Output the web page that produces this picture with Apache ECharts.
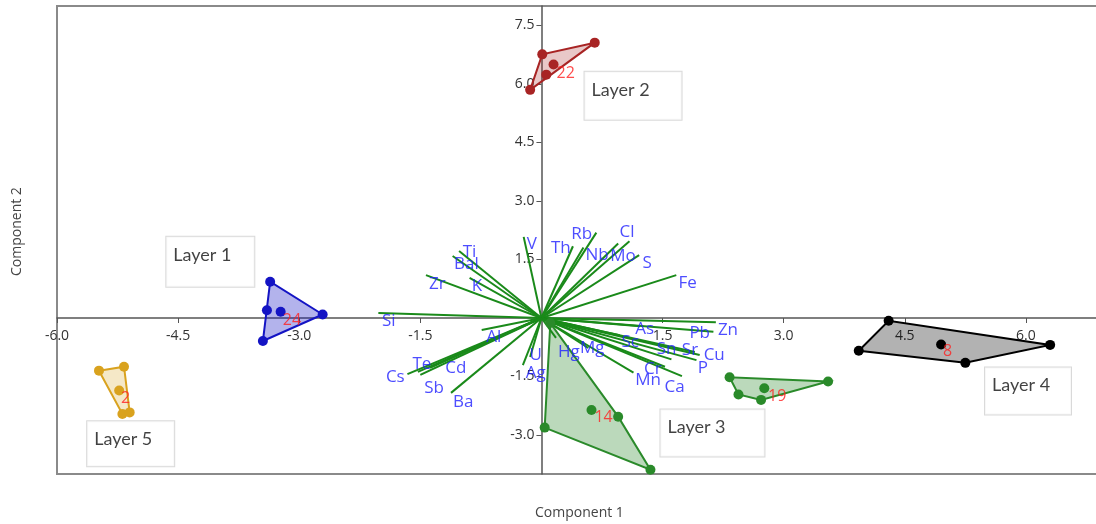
<!DOCTYPE html>
<html><head><meta charset="utf-8">
<script src="https://cdn.jsdelivr.net/npm/echarts@6/dist/echarts.min.js"></script>
<style>html,body{margin:0;padding:0;background:#fff}#c{width:1096px;height:524px}</style>
</head><body><div id="c"></div>
<script>
// ---- loadings (vector end points) ----
const elements = ['Si','Zr','Ti','Bal','K','V','Th','Nb','Rb','Mo','Cl','S','Fe','Zn','Pb','As','Sc','Cu','Sr','P','Sn','Cr','Ca','Mn','Mg','Hg','Al','Cs','Te','Sb','Cd','Ba','U','Ag'];
const loadX = [-2.02,-1.43,-1.02,-1.10,-0.89,-0.22,0.39,0.52,0.68,0.95,1.09,1.21,1.67,2.16,2.13,1.22,0.97,1.96,1.90,1.92,1.61,1.53,1.74,1.14,0.58,0.18,-0.74,-1.66,-1.53,-1.50,-1.38,-1.12,-0.23,-0.14];
const loadY = [0.13,1.10,1.72,1.59,1.03,2.08,1.84,1.81,2.19,1.91,1.97,1.61,1.10,-0.11,-0.35,-0.21,-0.44,-0.95,-0.87,-1.08,-1.06,-1.25,-1.49,-1.40,-0.77,-0.51,-0.31,-1.44,-1.38,-1.46,-1.28,-1.92,-1.21,-1.00];
// label anchor points (data units)
const labelX = [-1.89,-1.29,-0.89,-0.93,-0.80,-0.12,0.24,0.69,0.50,1.01,1.06,1.31,1.81,2.31,1.96,1.28,1.10,2.14,1.84,2.00,1.55,1.38,1.65,1.32,0.63,0.34,-0.59,-1.81,-1.48,-1.33,-1.06,-0.97,-0.07,-0.07];
const labelY = [-0.08,0.87,1.69,1.38,0.82,1.89,1.79,1.61,2.15,1.59,2.20,1.41,0.89,-0.31,-0.39,-0.28,-0.62,-0.95,-0.82,-1.28,-0.80,-1.31,-1.77,-1.59,-0.77,-0.87,-0.49,-1.51,-1.18,-1.79,-1.28,-2.15,-0.95,-1.41];

// ---- sample scores per group ----
const group24 = [[-3.36,0.93],[-3.40,0.20],[-3.23,0.16],[-2.71,0.09],[-3.45,-0.59]];
const group22 = [[-0.14,5.85],[0.01,6.76],[0.66,7.06],[0.15,6.50],[0.06,6.24]];
const group14 = [[0.11,-0.13],[0.04,-2.81],[1.35,-3.89],[0.95,-2.53],[0.62,-2.36]];
const group19 = [[2.33,-1.52],[3.55,-1.63],[2.44,-1.96],[2.72,-2.10],[2.76,-1.80]];
const group8  = [[4.30,-0.07],[3.93,-0.84],[5.25,-1.15],[6.30,-0.69],[4.95,-0.68]];
const group2  = [[-5.48,-1.35],[-5.17,-1.25],[-5.23,-1.86],[-5.19,-2.46],[-5.10,-2.42]];
const groupTags = ['24','22','14','19','8','2'];
const tagX = [-3.09,0.30,0.77,2.92,5.03,-5.15];
const tagY = [-0.05,6.27,-2.54,-2.00,-0.87,-2.05];

// ---- layer boxes ----
const layerNames = ['Layer 1','Layer 2','Layer 3','Layer 4','Layer 5'];
const layerBoxX = [-4.64,0.54,1.48,5.50,-5.62];
const layerBoxY = [2.07,6.30,-2.36,-1.28,-2.66];

// ---- ticks ----
const xTicks = [-6,-4.5,-3,-1.5,1.5,3,4.5,6];
const yTicks = [-3,-1.5,1.5,3,4.5,6,7.5];

// ---- styles / layout ----
const boxW = [88,97,104,86,87];
const boxH = [50,48,47,47,45];
const groupStroke = ['#1414c4','#a82424','#2a8a2a','#2a8a2a','#000000','#d9a21e'];
const groupFill = ['rgba(20,20,196,0.32)','rgba(168,36,36,0.25)','rgba(42,138,42,0.32)','rgba(42,138,42,0.32)','rgba(0,0,0,0.3)','rgba(217,162,30,0.25)'];
const groups = [group24,group22,group14,group19,group8,group2];
const X_MIN=-6, X_MAX=7.5, Y_MIN=-4, Y_MAX=8;
const G_LEFT=57, G_TOP=6, G_W=1090, G_H=468;
// move axes onto the zero lines
const xOffset = -((0 - Y_MIN)/(Y_MAX - Y_MIN))*G_H;
const yOffset = -((0 - X_MIN)/(X_MAX - X_MIN))*G_W;

function hull(pts){
  const p = pts.slice().sort((a,b)=>a[0]-b[0]||a[1]-b[1]);
  const cross=(o,a,b)=>(a[0]-o[0])*(b[1]-o[1])-(a[1]-o[1])*(b[0]-o[0]);
  const lo=[],up=[];
  for(const q of p){while(lo.length>=2&&cross(lo[lo.length-2],lo[lo.length-1],q)<=0)lo.pop();lo.push(q);}
  for(let i=p.length-1;i>=0;i--){const q=p[i];while(up.length>=2&&cross(up[up.length-2],up[up.length-1],q)<=0)up.pop();up.push(q);}
  up.pop();lo.pop();return lo.concat(up);
}

const FONT = 'Open Sans';
const series = [];

groups.forEach((g,i)=>{
  const h = hull(g);
  series.push({
    type:'custom', coordinateSystem:'cartesian2d', silent:true, z:2,
    data:[h[0]],
    renderItem:(params,api)=>({type:'polygon', shape:{points:h.map(p=>api.coord(p))},
      style:{fill:groupFill[i], stroke:groupStroke[i], lineWidth:2}})
  });
  series.push({
    type:'scatter', data:g, symbolSize:10, z:4, silent:true,
    itemStyle:{color:groupStroke[i], opacity:1}
  });
});

series.push({
  type:'lines', coordinateSystem:'cartesian2d', silent:true, z:3,
  lineStyle:{color:'#1a8a1a', width:2, opacity:1},
  data: elements.map((e,i)=>({coords:[[0,0],[loadX[i],loadY[i]]]}))
});

series.push({
  type:'scatter', silent:true, z:5, symbolSize:1, itemStyle:{color:'transparent'},
  data: elements.map((e,i)=>({name:e, value:[labelX[i],labelY[i]]})),
  label:{show:true, position:'inside', formatter:p=>p.name, color:'#2020ff', fontSize:17, fontFamily:FONT}
});

series.push({
  type:'scatter', silent:true, z:6, symbolSize:1, itemStyle:{color:'transparent'},
  data: groupTags.map((t,i)=>({name:t, value:[tagX[i],tagY[i]]})),
  label:{show:true, position:'inside', formatter:p=>p.name, color:'#ff1f1f', fontSize:16, fontFamily:FONT}
});

series.push({
  type:'scatter', silent:true, z:7, symbolSize:1, itemStyle:{color:'transparent'},
  data: layerNames.map((n,i)=>({name:n, value:[layerBoxX[i],layerBoxY[i]],
    label:{width:boxW[i]-7, height:boxH[i]-5}})),
  label:{show:true, position:[0,0], align:'left', verticalAlign:'top', formatter:p=>p.name,
    color:'#111', fontSize:18, fontFamily:'Lato', lineHeight:26,
    backgroundColor:'#fff', borderColor:'#cfcfcf', borderWidth:1, padding:[5,0,0,7]}
});

const chart = echarts.init(document.getElementById('c'), null, {renderer:'canvas'});
chart.setOption({
  animation:false,
  backgroundColor:'#fff',
  grid:{left:G_LEFT, top:G_TOP, width:G_W, height:G_H, show:true, borderColor:'#8a8a8a', borderWidth:2, backgroundColor:'transparent', outerBoundsMode:'none', containLabel:false},
  xAxis:{type:'value', min:X_MIN, max:X_MAX, position:'bottom', offset:xOffset, splitLine:{show:false},
    axisLine:{onZero:false, lineStyle:{color:'#555', width:1.5}},
    axisTick:{customValues:xTicks, length:5, lineStyle:{color:'#555'}},
    axisLabel:{customValues:xTicks, formatter:v=>v.toFixed(1), color:'#333', fontSize:14, fontFamily:FONT, margin:11}},
  yAxis:{type:'value', min:Y_MIN, max:Y_MAX, position:'left', offset:yOffset, splitLine:{show:false},
    axisLine:{onZero:false, lineStyle:{color:'#555', width:1.5}},
    axisTick:{customValues:yTicks, length:5, lineStyle:{color:'#555'}},
    axisLabel:{customValues:yTicks, formatter:v=>v.toFixed(1), color:'#333', fontSize:14, fontFamily:FONT, margin:7}},
  graphic:[
    {type:'text', left:535, top:506, style:{text:'Component 1', fill:'#444', font:'14px "Open Sans"'}},
    {type:'text', x:10, y:276, rotation:Math.PI/2, style:{text:'Component 2', fill:'#444', font:'14px "Open Sans"'}}
  ],
  series
});
</script></body></html>
